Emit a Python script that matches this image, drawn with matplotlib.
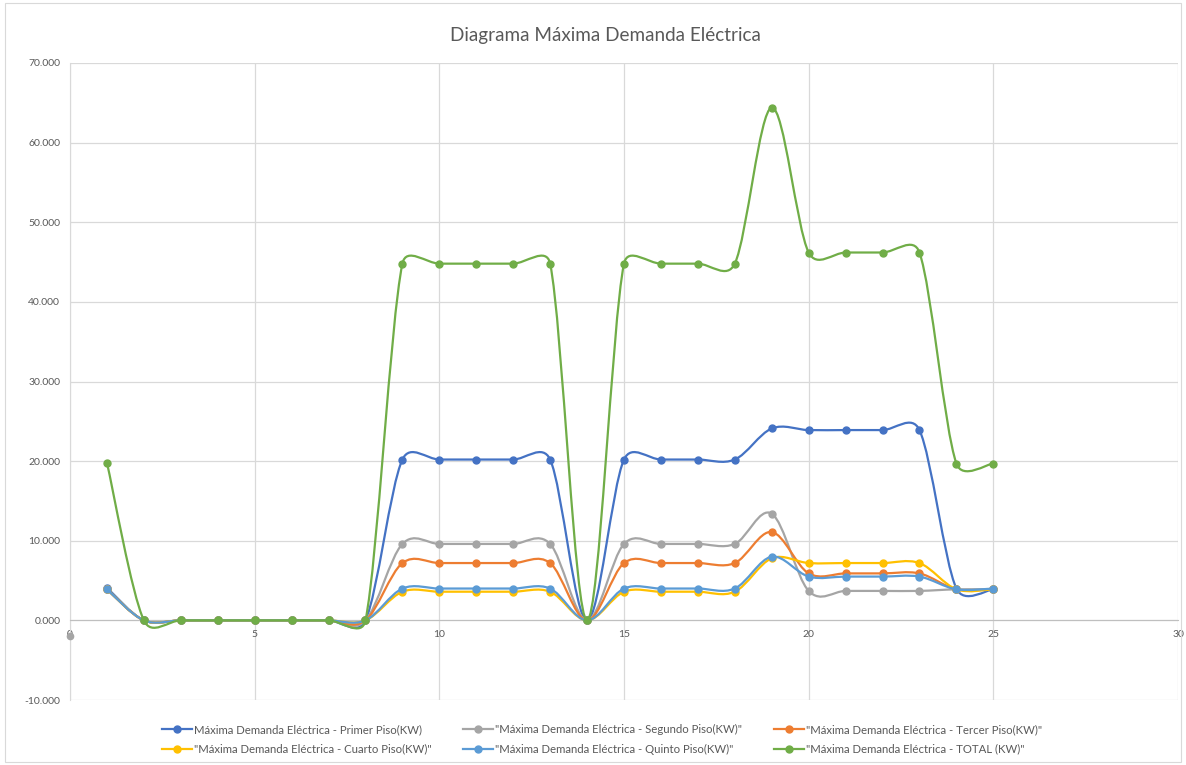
import numpy as np
import matplotlib
matplotlib.use('Agg')
import matplotlib.pyplot as plt
from matplotlib.path import Path
from matplotlib.patches import PathPatch, Rectangle
from matplotlib.lines import Line2D
from matplotlib.ticker import FuncFormatter, MultipleLocator

plt.rcParams['font.family'] = ['Lato', 'DejaVu Sans']

# %% datos
dias = list(range(1, 26))

primer = [4.1, 0, 0, 0, 0, 0, 0, 0, 20.2, 20.2, 20.2, 20.2, 20.2, 0,
          20.2, 20.2, 20.2, 20.2, 24.1, 23.9, 23.9, 23.9, 23.9, 4.0, 3.9]
segundo = [3.9, 0, 0, 0, 0, 0, 0, 0, 9.6, 9.6, 9.6, 9.6, 9.6, 0,
           9.6, 9.6, 9.6, 9.6, 13.4, 3.7, 3.7, 3.7, 3.7, 3.9, 3.9]
tercer = [3.9, 0, 0, 0, 0, 0, 0, 0, 7.2, 7.2, 7.2, 7.2, 7.2, 0,
          7.2, 7.2, 7.2, 7.2, 11.1, 5.9, 5.9, 5.9, 5.9, 3.9, 3.9]
cuarto = [3.9, 0, 0, 0, 0, 0, 0, 0, 3.6, 3.6, 3.6, 3.6, 3.6, 0,
          3.6, 3.6, 3.6, 3.6, 7.8, 7.2, 7.2, 7.2, 7.2, 3.9, 3.9]
quinto = [3.9, 0, 0, 0, 0, 0, 0, 0, 4.0, 4.0, 4.0, 4.0, 4.0, 0,
          4.0, 4.0, 4.0, 4.0, 8.0, 5.5, 5.5, 5.5, 5.5, 3.9, 4.0]
total = [19.8, 0, 0, 0, 0, 0, 0, 0, 44.8, 44.8, 44.8, 44.8, 44.8, 0,
         44.8, 44.8, 44.8, 44.8, 64.4, 46.2, 46.2, 46.2, 46.2, 19.7, 19.7]

# punto suelto sobre el eje vertical
suelto_x = [0]
suelto_y = [-2.0]

series = [primer, segundo, tercer, cuarto, quinto, total]
etiquetas = [
    'Máxima Demanda Eléctrica - Primer Piso(KW)',
    '"Máxima Demanda Eléctrica - Segundo Piso(KW)"',
    '"Máxima Demanda Eléctrica - Tercer Piso(KW)"',
    '"Máxima Demanda Eléctrica - Cuarto Piso(KW)"',
    '"Máxima Demanda Eléctrica - Quinto Piso(KW)"',
    '"Máxima Demanda Eléctrica - TOTAL (KW)"',
]
colores = ['#4472C4', '#A5A5A5', '#ED7D31', '#FFC000', '#5B9BD5', '#70AD47']
titulo = 'Diagrama Máxima Demanda Eléctrica'

GRIS_TXT = '#595959'
GRIS_LIN = '#D9D9D9'


def brazo(a, b, seg):
    # brazo de control: 1/6 del vector vecino, limitado a medio segmento
    v = b - a
    n = np.hypot(*v)
    if n == 0:
        return np.zeros(2)
    return v / n * min(n / 6, seg / 2)


def curva_suave(ax, xs, ys):
    # linea suavizada al estilo Excel, calculada en pixeles
    pts = ax.transData.transform(np.column_stack([xs, ys]))
    n = len(pts)
    verts = [pts[0]]
    codes = [Path.MOVETO]
    for i in range(n - 1):
        p0, p1 = pts[max(i - 1, 0)], pts[i]
        p2, p3 = pts[i + 1], pts[min(i + 2, n - 1)]
        d12 = np.hypot(*(p2 - p1))
        c1 = p1 + brazo(p0, p2, d12)
        c2 = p2 - brazo(p1, p3, d12)
        verts += [c1, c2, p2]
        codes += [Path.CURVE4] * 3
    verts = ax.transData.inverted().transform(np.array(verts))
    return Path(verts, codes)


# %% figura
fig = plt.figure(figsize=(11.86, 7.65), dpi=100)
fig.patches.append(Rectangle((0.004, 0.004), 0.992, 0.992, transform=fig.transFigure,
                             fill=False, edgecolor=GRIS_LIN, lw=0.8))
ax = fig.add_axes([70 / 1186, 65 / 765, 1108 / 1186, 637 / 765])
ax.set_xlim(0, 30)
ax.set_ylim(-10, 70)
ax.xaxis.set_major_locator(MultipleLocator(5))
ax.yaxis.set_major_locator(MultipleLocator(10))
ax.yaxis.set_major_formatter(FuncFormatter(lambda v, p: f'{v:.3f}'))
ax.grid(True, color=GRIS_LIN, lw=0.9)
ax.set_axisbelow(True)
for s in ['top', 'right']:
    ax.spines[s].set_visible(False)
ax.spines['left'].set_color(GRIS_LIN)
ax.spines['bottom'].set_position(('data', 0))
ax.spines['bottom'].set_color('#BFBFBF')
ax.tick_params(length=0, labelsize=7.5, labelcolor=GRIS_TXT, pad=7)

for k, (ys, col) in enumerate(zip(series, colores)):
    ax.add_patch(PathPatch(curva_suave(ax, dias, ys), facecolor='none',
                           edgecolor=col, lw=1.6, zorder=3 + k))
    ax.plot(dias, ys, 'o', color=col, ms=5, zorder=3 + k)

ax.plot(suelto_x, suelto_y, 'o', color='#A5A5A5', ms=4.5, clip_on=False, zorder=3)

fig.text(605 / 1186, 1 - 35 / 765, titulo, ha='center', va='center', fontsize=13.6, color=GRIS_TXT)

handles = [Line2D([], [], color=c, lw=1.6, marker='o', ms=5) for c in colores]
orden = [0, 3, 1, 4, 2, 5]
fig.legend([handles[i] for i in orden], [etiquetas[i] for i in orden],
           loc='lower center', bbox_to_anchor=(602 / 1186, 0.0), ncol=3, frameon=False,
           fontsize=8.2, labelcolor=GRIS_TXT, handlelength=2.6, columnspacing=2.8,
           handletextpad=0.2, labelspacing=0.75)

fig.savefig('out.png', dpi=100)
